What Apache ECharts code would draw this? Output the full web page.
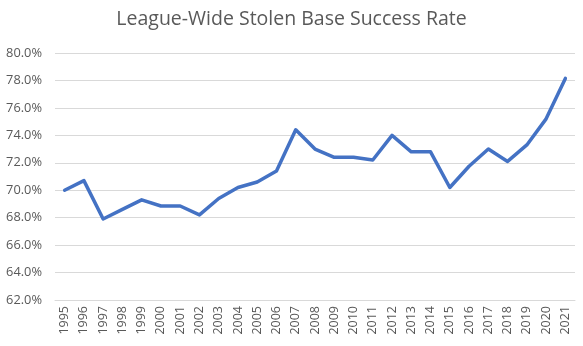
<!DOCTYPE html>
<html><head><meta charset="utf-8">
<script src="https://cdn.jsdelivr.net/npm/echarts@6/dist/echarts.min.js"></script>
<style>html,body{margin:0;padding:0;background:#fff}#c{width:583px;height:346px}</style>
</head><body><div id="c"></div>
<script>
const years = ['1995','1996','1997','1998','1999','2000','2001','2002','2003','2004','2005','2006','2007','2008','2009','2010','2011','2012','2013','2014','2015','2016','2017','2018','2019','2020','2021'];
const successRate = [70.0,70.7,67.9,68.6,69.3,68.85,68.85,68.2,69.4,70.2,70.6,71.4,74.4,73.0,72.4,72.4,72.2,74.0,72.8,72.8,70.2,71.75,73.0,72.1,73.3,75.2,78.15];
const yTicks = {min:62, max:80, step:2};
const chart = echarts.init(document.getElementById('c'), null, {renderer:'canvas'});
chart.setOption({
  animation:false,
  title:{text:'League-Wide Stolen Base Success Rate', left:'center', top:4,
    textStyle:{fontFamily:'Open Sans', fontSize:19.5, fontWeight:'normal', color:'#595959'}},
  grid:{left:55, right:8, top:53, bottom:46, containLabel:false},
  xAxis:{type:'category', data:years, boundaryGap:true,
    axisLine:{show:true, lineStyle:{color:'#d9d9d9'}}, axisTick:{show:false},
    axisLabel:{rotate:90, color:'#595959', fontFamily:'Open Sans', fontSize:12.5, interval:0, margin:6}},
  yAxis:{type:'value', min:yTicks.min, max:yTicks.max, interval:yTicks.step,
    axisLine:{show:false}, axisTick:{show:false},
    splitLine:{lineStyle:{color:'#d9d9d9', width:1}},
    axisLabel:{formatter:v=>v.toFixed(1)+'%', color:'#595959', fontFamily:'Open Sans', fontSize:12.8, margin:13}},
  series:[{type:'line', data:successRate, symbol:'none', smooth:false,
    lineStyle:{color:'#4472C4', width:3.5, cap:'round', join:'round'}}]
});
</script></body></html>
